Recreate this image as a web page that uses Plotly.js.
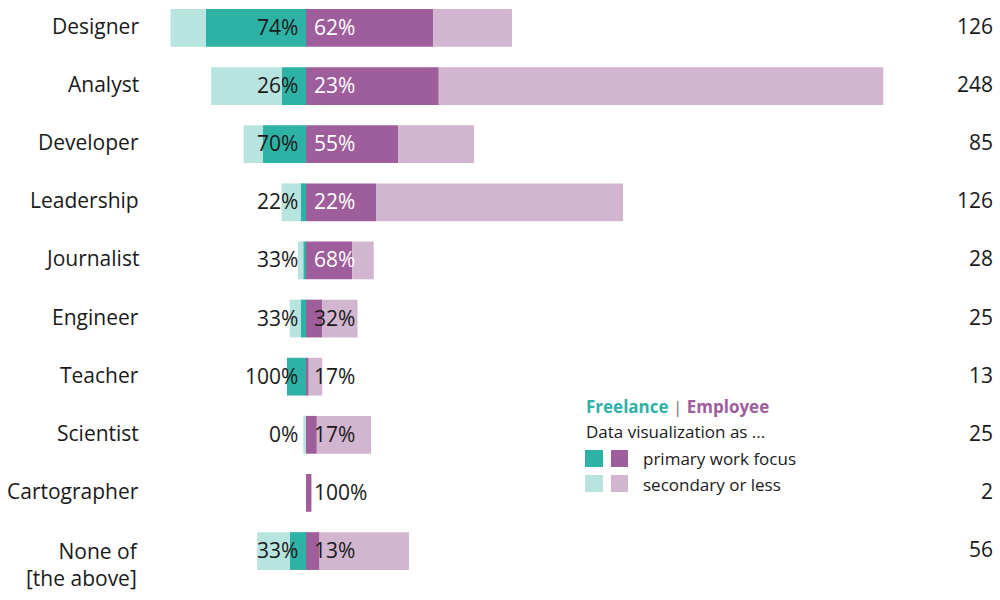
<!DOCTYPE html>
<html>
<head>
<meta charset="utf-8">
<script src="https://cdn.plot.ly/plotly-3.0.1.min.js"></script>
<style>
  html, body { margin: 0; padding: 0; background: #fff; }
  #chart { width: 1000px; height: 600px; }
</style>
</head>
<body>
<div id="chart"></div>
<script>
// roles, top to bottom
const roles = [
  'Designer', 'Analyst', 'Developer', 'Leadership', 'Journalist',
  'Engineer', 'Teacher', 'Scientist', 'Cartographer', 'None of<br>[the above]',
];

// respondent counts
const freelancePrimary = [37, 9, 16, 2, 1, 2, 7, 0, 0, 6];
const freelanceSecondary = [13, 26, 7, 7, 2, 4, 0, 1, 0, 12];
const employeePrimary = [47, 49, 34, 26, 17, 6, 1, 4, 2, 5];
const employeeSecondary = [29, 164, 28, 91, 8, 13, 5, 20, 0, 33];

const colors = {
  freeDark: '#2EB2A5',
  freeLight: '#B8E4E0',
  empDark: '#9E5E9B',
  empLight: '#D2B6CF',
};

const FONT = '"Open Sans", sans-serif';
const TEXT = '#1a1a1a';
const SIZE = 21;

function neg(arr) {
  return arr.map(v => -v);
}

function barTrace(x, color) {
  return {
    type: 'bar',
    orientation: 'h',
    y: roles,
    x: x,
    marker: { color: color, line: { width: 0 } },
    hoverinfo: 'skip',
    showlegend: false,
  };
}

const data = [
  barTrace(neg(freelancePrimary), colors.freeDark),
  barTrace(neg(freelanceSecondary), colors.freeLight),
  barTrace(employeePrimary, colors.empDark),
  barTrace(employeeSecondary, colors.empLight),
];

const annotations = [];

roles.forEach((role, i) => {
  const fTotal = freelancePrimary[i] + freelanceSecondary[i];
  const eTotal = employeePrimary[i] + employeeSecondary[i];

  // role name on the left
  const twoLines = role.indexOf('<br>') > -1;
  annotations.push({
    xref: 'paper',
    yref: 'y',
    x: -0.012,
    y: role,
    xanchor: 'right',
    yanchor: twoLines ? 'top' : 'middle',
    yshift: twoLines ? 16 : 2,
    align: 'right',
    text: role,
    showarrow: false,
    font: { family: FONT, size: SIZE, color: TEXT },
  });

  // total on the right
  annotations.push({
    xref: 'paper',
    yref: 'y',
    x: 1.127,
    y: role,
    xanchor: 'right',
    yshift: 2,
    text: String(fTotal + eTotal),
    showarrow: false,
    font: { family: FONT, size: SIZE, color: TEXT },
  });

  // share of primary focus, freelance
  if (fTotal > 0) {
    annotations.push({
      x: 0,
      y: role,
      xanchor: 'right',
      xshift: -6,
      yshift: 1,
      text: Math.round((100 * freelancePrimary[i]) / fTotal) + '%',
      showarrow: false,
      font: { family: FONT, size: SIZE, color: TEXT },
    });
  }

  // share of primary focus, employee
  if (eTotal > 0) {
    annotations.push({
      x: 0,
      y: role,
      xanchor: 'left',
      xshift: 6,
      yshift: 1,
      text: Math.round((100 * employeePrimary[i]) / eTotal) + '%',
      showarrow: false,
      font: {
        family: FONT,
        size: SIZE,
        color: employeePrimary[i] >= 15 ? '#ffffff' : TEXT,
      },
    });
  }
});

// legend block
function legendText(x, y, text, size) {
  return {
    xref: 'paper',
    yref: 'paper',
    x: x,
    y: y,
    xanchor: 'left',
    yanchor: 'middle',
    text: text,
    showarrow: false,
    font: { family: FONT, size: size, color: TEXT },
  };
}

annotations.push(
  legendText(
    0.578,
    0.2983,
    '<b><span style="color:' + colors.freeDark + '">Freelance</span></b>'
      + ' <span style="color:#777">|</span> '
      + '<b><span style="color:' + colors.empDark + '">Employee</span></b>',
    17,
  ),
  legendText(0.578, 0.2552, 'Data visualization as ...', 17),
  legendText(0.655, 0.2103, 'primary work focus', 17),
  legendText(0.655, 0.1655, 'secondary or less', 17),
);

function swatch(x0, x1, y0, y1, color) {
  return {
    type: 'rect',
    xref: 'paper',
    yref: 'paper',
    x0: x0,
    x1: x1,
    y0: y0,
    y1: y1,
    fillcolor: color,
    line: { width: 0 },
  };
}

const shapes = [
  swatch(0.58, 0.604, 0.1948, 0.2241, colors.freeDark),
  swatch(0.6147, 0.6373, 0.1948, 0.2241, colors.empDark),
  swatch(0.58, 0.604, 0.1517, 0.181, colors.freeLight),
  swatch(0.6147, 0.6373, 0.1517, 0.181, colors.empLight),
];

const layout = {
  width: 1000,
  height: 600,
  margin: { l: 150, r: 100, t: 0, b: 20 },
  paper_bgcolor: '#fff',
  plot_bgcolor: '#fff',
  barmode: 'relative',
  bargap: 0.35,
  showlegend: false,
  xaxis: {
    range: [-57.56, 219.19],
    visible: false,
    fixedrange: true,
  },
  yaxis: {
    type: 'category',
    range: [9.498, -0.48],
    showticklabels: false,
    showgrid: false,
    zeroline: false,
    fixedrange: true,
  },
  annotations: annotations,
  shapes: shapes,
};

Plotly.newPlot('chart', data, layout, { displayModeBar: false, staticPlot: true });
</script>
</body>
</html>
